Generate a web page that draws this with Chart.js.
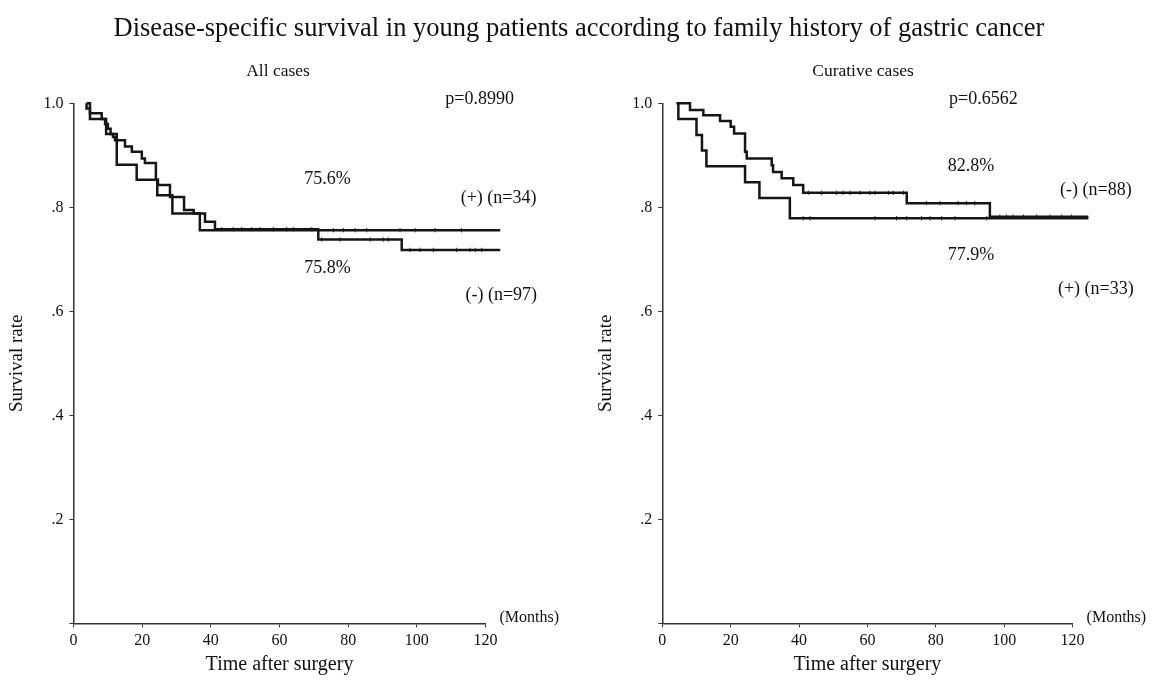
<!DOCTYPE html>
<html>
<head>
<meta charset="utf-8">
<script src="https://cdn.jsdelivr.net/npm/chart.js@4"></script>
<style>
  body { margin: 0; background: #fff; }
  #wrap { position: relative; width: 1155px; height: 685px; font-family: "Liberation Serif", "Times New Roman", serif; color: #111; }
  canvas { position: absolute; top: 0; }
  .txt { position: absolute; white-space: nowrap; transform: translate(-50%, -50%); }
</style>
</head>
<body>
<div id="wrap">
  <canvas id="allCases" width="577" height="685" style="left:0"></canvas>
  <canvas id="curCases" width="578" height="685" style="left:577px"></canvas>
  <div class="txt" style="left:579px;top:27px;font-size:26.5px">Disease-specific survival in young patients according to family history of gastric cancer</div>
  <div class="txt" style="left:278px;top:70px;font-size:17.5px">All cases</div>
  <div class="txt" style="left:863px;top:70px;font-size:17.5px">Curative cases</div>
</div>
<script>
// Kaplan-Meier steps (months, survival rate)
const allNegTime = [3.8, 3.8, 4.8, 8.2, 9.2, 10.0, 10.8, 11.5, 12.1, 15.0, 17.0, 19.9, 20.8, 24.0, 24.6, 28.1, 32.2, 35.0, 38.3, 41.2, 71.3, 95.6, 124.3];
const allNegSurv = [1.0, 0.990, 0.981, 0.970, 0.960, 0.951, 0.941, 0.935, 0.929, 0.917, 0.907, 0.894, 0.885, 0.853, 0.843, 0.820, 0.795, 0.788, 0.772, 0.758, 0.738, 0.718, 0.718];
const allPosTime = [3.8, 4.8, 9.5, 12.6, 18.4, 24.4, 28.8, 36.8, 124.3];
const allPosSurv = [1.0, 0.970, 0.941, 0.882, 0.853, 0.823, 0.788, 0.756, 0.756];

const curNegTime = [4.2, 8.1, 12.0, 16.9, 20.0, 21.0, 24.2, 24.7, 32.0, 32.4, 34.9, 38.3, 41.2, 71.5, 95.8, 124.6];
const curNegSurv = [1.0, 0.987, 0.977, 0.966, 0.955, 0.942, 0.907, 0.894, 0.881, 0.868, 0.856, 0.843, 0.828, 0.808, 0.782, 0.782];
const curPosTime = [4.2, 4.7, 10.0, 11.6, 12.9, 24.2, 28.4, 37.3, 124.6];
const curPosSurv = [1.0, 0.970, 0.939, 0.909, 0.879, 0.848, 0.818, 0.779, 0.779];

// censored cases (months)
const allNegCens = [43.2, 46.5, 49, 51.9, 54.3, 58.2, 62.1, 64, 69.4, 72.3, 77.6, 86.4, 90.2, 91.7, 98, 100.9, 104.8, 111.6, 115.5, 117, 118.9];
const allPosCens = [75.7, 78.6, 82, 85.4, 95.1, 99.5, 105.3, 113];
const curNegCens = [42.7, 46.6, 51, 52.9, 54.9, 57.8, 60.7, 62.2, 66.1, 67.5, 70.5, 77.3, 81.2, 86.5, 89, 91.4, 98.7, 100.7, 102.6, 105.6, 109.5, 113.4, 116.8, 119.7];
const curPosCens = [41.2, 43.2, 62.2, 68.5, 71.5, 75.8, 78.3, 81.7, 85.6, 94.9];

const xTicks = [0, 20, 40, 60, 80, 100, 120];
const yTicks = [0, 0.2, 0.4, 0.6, 0.8, 1.0];

const allNotes = [
  { text: 'p=0.8990', x: 118.3, y: 1.008 },
  { text: '75.6%', x: 74, y: 0.854 },
  { text: '(+) (n=34)', x: 123.8, y: 0.818 },
  { text: '75.8%', x: 74, y: 0.683 },
  { text: '(-) (n=97)', x: 124.6, y: 0.630 }
];
const curNotes = [
  { text: 'p=0.6562', x: 93.9, y: 1.008 },
  { text: '82.8%', x: 90.3, y: 0.879 },
  { text: '(-) (n=88)', x: 126.8, y: 0.833 },
  { text: '77.9%', x: 90.3, y: 0.708 },
  { text: '(+) (n=33)', x: 126.8, y: 0.643 }
];

const serif = '"Liberation Serif", "Times New Roman", serif';

function pts(t, s) {
  return t.map((x, i) => ({ x: x, y: s[i] }));
}

// survival value at time x for a step curve
function survAt(t, s, x) {
  let v = s[0];
  for (let i = 0; i < t.length; i++) {
    if (t[i] <= x) v = s[i];
  }
  return v;
}

function censPts(cens, t, s) {
  return cens.map(x => ({ x: x, y: survAt(t, s, x) }));
}

const notesPlugin = {
  id: 'notes',
  afterDraw(chart, args, opts) {
    const ctx = chart.ctx;
    const xs = chart.scales.x, ys = chart.scales.y;
    ctx.save();
    ctx.fillStyle = '#111';
    ctx.font = '18px ' + serif;
    ctx.textAlign = 'center';
    ctx.textBaseline = 'middle';
    opts.items.forEach(n => {
      ctx.fillText(n.text, xs.getPixelForValue(n.x), ys.getPixelForValue(n.y));
    });
    ctx.font = '16px ' + serif;
    ctx.textAlign = 'left';
    ctx.fillText('(Months)', chart.chartArea.right + 14, chart.chartArea.bottom - 6);
    ctx.restore();
  }
};

function kmLine(data) {
  return {
    type: 'line',
    data: data,
    borderColor: '#151515',
    borderWidth: 2.5,
    stepped: true,
    pointRadius: 0,
    fill: false,
    clip: false
  };
}

function censSet(data) {
  return {
    type: 'scatter',
    data: data,
    pointStyle: 'line',
    rotation: 90,
    pointRadius: 2.2,
    borderColor: '#333',
    borderWidth: 1,
    clip: false
  };
}

function makeChart(id, datasets, notes, padLeft, yWidth, padRight) {
  return new Chart(document.getElementById(id), {
    type: 'line',
    data: { datasets: datasets },
    options: {
      responsive: false,
      animation: false,
      events: [],
      layout: { padding: { left: padLeft, top: 103.3, right: padRight, bottom: 8 } },
      plugins: {
        legend: { display: false },
        tooltip: { enabled: false },
        notes: { items: notes }
      },
      scales: {
        x: {
          type: 'linear',
          min: 0,
          max: 120,
          afterBuildTicks: s => { s.ticks = xTicks.map(v => ({ value: v })); },
          afterFit: s => { s.height = 53.7; },
          ticks: { color: '#111', font: { family: serif, size: 16 }, padding: 4, maxRotation: 0 },
          grid: { drawOnChartArea: false, drawTicks: true, tickLength: 4, color: '#333' },
          border: { color: '#333', width: 1.5 },
          title: { display: true, text: 'Time after surgery', color: '#111', font: { family: serif, size: 20 }, padding: 0 }
        },
        y: {
          min: 0,
          max: 1,
          afterBuildTicks: s => { s.ticks = yTicks.map(v => ({ value: v })); },
          afterFit: s => { s.width = yWidth; },
          ticks: {
            color: '#111',
            font: { family: serif, size: 16 },
            padding: 6,
            callback: v => v === 0 ? '' : (v >= 1 ? '1.0' : v.toFixed(1).replace(/^0/, ''))
          },
          grid: { drawOnChartArea: false, drawTicks: true, tickLength: 4, color: '#333' },
          border: { color: '#333', width: 1.5 },
          title: { display: true, text: 'Survival rate', color: '#111', font: { family: serif, size: 19 }, padding: 0 }
        }
      }
    },
    plugins: [notesPlugin]
  });
}

makeChart('allCases', [
  kmLine(pts(allNegTime, allNegSurv)),
  kmLine(pts(allPosTime, allPosSurv)),
  censSet(censPts(allNegCens, allNegTime, allNegSurv)),
  censSet(censPts(allPosCens, allPosTime, allPosSurv))
], allNotes, 5.6, 67.9, 91.5);

makeChart('curCases', [
  kmLine(pts(curNegTime, curNegSurv)),
  kmLine(pts(curPosTime, curPosSurv)),
  censSet(censPts(curNegCens, curNegTime, curNegSurv)),
  censSet(censPts(curPosCens, curPosTime, curPosSurv))
], curNotes, 17.6, 67.7, 82.4);
</script>
</body>
</html>
